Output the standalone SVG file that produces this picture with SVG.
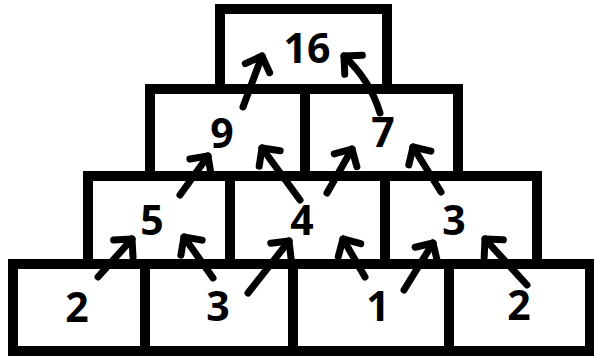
<svg xmlns="http://www.w3.org/2000/svg" width="594" height="356" viewBox="0 0 594 356">
<style>
.box{fill:#fff;stroke:#000;stroke-width:10}
.lbl{font-family:"Open Sans","Liberation Sans",sans-serif;font-weight:bold;font-size:41px;fill:#000;text-anchor:middle}
.arr{fill:none;stroke:#000;stroke-width:7;stroke-linecap:round;stroke-linejoin:round;marker-end:url(#head)}
</style>
<defs>
<marker id="head" markerUnits="userSpaceOnUse" markerWidth="40" markerHeight="40" viewBox="-20 -20 40 40" refX="0" refY="0" orient="auto" overflow="visible">
<path d="M-13,-13 L0,0 L-13,13" fill="none" stroke="#000" stroke-width="7" stroke-linecap="round" stroke-linejoin="round"/>
</marker>
</defs>
<rect width="594" height="356" fill="#fff"/>
<g id="n16"><rect class="box" x="220" y="9" width="167" height="80"/><text class="lbl" x="307" y="63">16</text></g>
<g id="n9"><rect class="box" x="150" y="89" width="155" height="87"/><text class="lbl" x="222" y="148">9</text></g>
<g id="n7"><rect class="box" x="305" y="89" width="153" height="87"/><text class="lbl" x="383" y="147">7</text></g>
<g id="n5"><rect class="box" x="88" y="176" width="142" height="88"/><text class="lbl" x="152" y="235">5</text></g>
<g id="n4"><rect class="box" x="230" y="176" width="155" height="88"/><text class="lbl" x="302" y="235">4</text></g>
<g id="n3a"><rect class="box" x="385" y="176" width="152" height="88"/><text class="lbl" x="454" y="235">3</text></g>
<g id="n2a"><rect class="box" x="13" y="264" width="132" height="87"/><text class="lbl" x="77" y="322">2</text></g>
<g id="n3b"><rect class="box" x="145" y="264" width="148" height="87"/><text class="lbl" x="218" y="321">3</text></g>
<g id="n1"><rect class="box" x="293" y="264" width="156" height="87"/><text class="lbl" x="378" y="321">1</text></g>
<g id="n2b"><rect class="box" x="449" y="264" width="141" height="87"/><text class="lbl" x="519" y="320">2</text></g>
<g id="connectors">
<path class="arr" d="M243,107 L262,56"/>
<path class="arr" d="M380,113 Q370,80 344,56"/>
<path class="arr" d="M180,195 L208,156"/>
<path class="arr" d="M300,200 L262,148"/>
<path class="arr" d="M327,193 L352,149"/>
<path class="arr" d="M441,192 L413,147"/>
<path class="arr" d="M98,277 L132,239"/>
<path class="arr" d="M213,278 L184,237"/>
<path class="arr" d="M248,293 L289,241"/>
<path class="arr" d="M365,277 L343,239"/>
<path class="arr" d="M404,290 L433,243"/>
<path class="arr" d="M527,285 L485,239"/>
</g>
</svg>
